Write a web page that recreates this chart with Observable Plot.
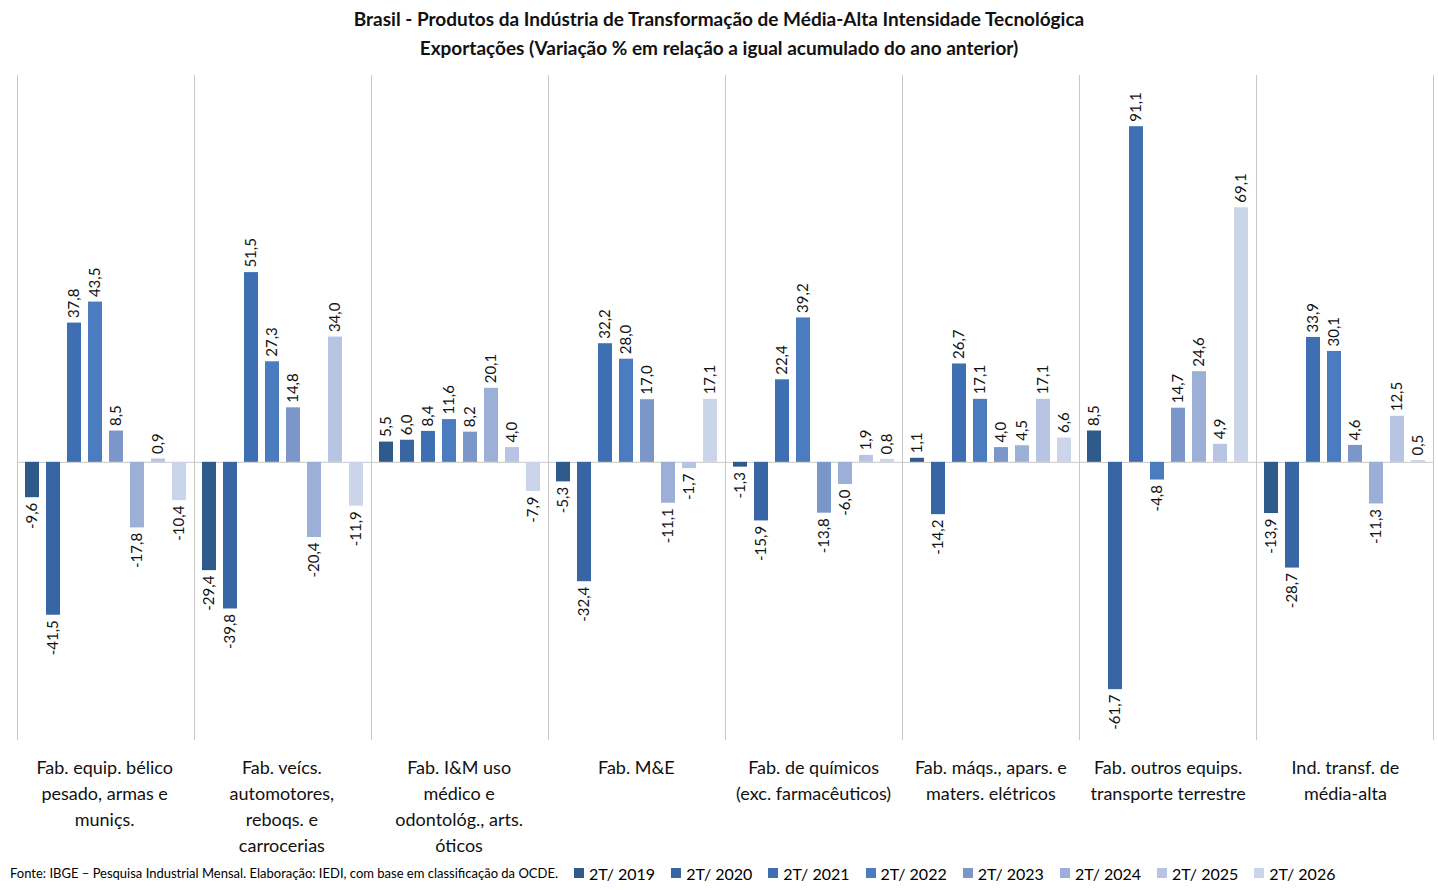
<!DOCTYPE html>
<html><head><meta charset="utf-8">
<script src="https://cdn.jsdelivr.net/npm/d3@7"></script>
<script src="https://cdn.jsdelivr.net/npm/@observablehq/plot@0.6"></script>
<style>
body{margin:0;background:#fff;font-family:Lato,"Open Sans",sans-serif;}
#wrap{width:1438px;}
.title{text-align:center;font-weight:bold;font-size:19px;line-height:29px;padding-top:4px;height:58px;color:#111;}
#chart svg{display:block;}
#cats{margin-left:16px;width:1418px;display:flex;margin-top:14px;height:104px;}
#cats div{flex:1;text-align:center;font-size:18px;line-height:26px;color:#111;}
#foot{margin-top:5px;margin-left:10px;font-size:13px;display:flex;align-items:center;width:1420px;height:20px;}
#foot .leg{display:flex;align-items:center;margin-left:16px;font-size:16px}
#foot .sw{width:10px;height:10px;margin-right:5px;display:inline-block}
</style></head><body>
<div id="wrap">
<div class="title">Brasil - Produtos da Indústria de Transformação de Média-Alta Intensidade Tecnológica<br>Exportações (Variação % em relação a igual acumulado do ano anterior)</div>
<div id="chart"></div>
<div id="cats"></div>
<div id="foot"></div>
</div>
<script>
const categories = ["Fab. equip. bélico pesado, armas e muniçs.","Fab. veícs. automotores, reboqs. e carrocerias","Fab. I&M uso médico e odontológ., arts. óticos","Fab. M&E","Fab. de químicos (exc. farmacêuticos)","Fab. máqs., apars. e maters. elétricos","Fab. outros equips. transporte terrestre","Ind. transf. de média-alta"];
const catLabels = ["Fab. equip. bélico<br>pesado, armas e<br>muniçs.","Fab. veícs.<br>automotores,<br>reboqs. e<br>carrocerias","Fab. I&amp;M uso<br>médico e<br>odontológ., arts.<br>óticos","Fab. M&amp;E","Fab. de químicos<br>(exc. farmacêuticos)","Fab. máqs., apars. e<br>maters. elétricos","Fab. outros equips.<br>transporte terrestre","Ind. transf. de<br>média-alta"];
const series = ["2T/ 2019","2T/ 2020","2T/ 2021","2T/ 2022","2T/ 2023","2T/ 2024","2T/ 2025","2T/ 2026"];
const colors = ["#2e5a8c","#3866a4","#3f6fb3","#4b7cc0","#7b97c9","#9cb0d7","#b7c5e2","#cbd5ea"];
const v_equip = [-9.6,-41.5,37.8,43.5,8.5,-17.8,0.9,-10.4];
const v_veics = [-29.4,-39.8,51.5,27.3,14.8,-20.4,34.0,-11.9];
const v_im = [5.5,6.0,8.4,11.6,8.2,20.1,4.0,-7.9];
const v_me = [-5.3,-32.4,32.2,28.0,17.0,-11.1,-1.7,17.1];
const v_quim = [-1.3,-15.9,22.4,39.2,-13.8,-6.0,1.9,0.8];
const v_eletr = [1.1,-14.2,26.7,17.1,4.0,4.5,17.1,6.6];
const v_transp = [8.5,-61.7,91.1,-4.8,14.7,24.6,4.9,69.1];
const v_total = [-13.9,-28.7,33.9,30.1,4.6,-11.3,12.5,0.5];
const all = [v_equip,v_veics,v_im,v_me,v_quim,v_eletr,v_transp,v_total];
const data = [];
all.forEach((vals,i)=>vals.forEach((v,j)=>data.push({cat:categories[i],s:series[j],v})));
const fmt = v => v.toFixed(1).replace(".",",");
const pos = data.filter(d=>d.v>=0), neg = data.filter(d=>d.v<0);
const chart = Plot.plot({
  width:1438, height:678, marginLeft:16, marginRight:4, marginTop:13, marginBottom:0,
  style:{fontFamily:"Lato, 'Open Sans', sans-serif"},
  fx:{domain:categories, padding:0, axis:null},
  x:{domain:series, padding:0.33, axis:null},
  y:{domain:[-75.5,105], axis:null},
  color:{domain:series, range:colors},
  marks:[
    Plot.frame({anchor:"left", stroke:"#c8c8c8"}),
    Plot.frame({anchor:"right", stroke:"#c8c8c8"}),
    Plot.ruleY([0],{stroke:"#c8c8c8"}),
    Plot.barY(data,{fx:"cat",x:"s",y:"v",fill:"s"}),
    Plot.text(pos,{fx:"cat",x:"s",y:"v",text:d=>fmt(d.v),rotate:-90,textAnchor:"start",dy:-5,fontSize:15,fill:"#111"}),
    Plot.text(neg,{fx:"cat",x:"s",y:"v",text:d=>fmt(d.v),rotate:-90,textAnchor:"end",dy:5,fontSize:15,fill:"#111"})
  ]
});
document.getElementById("chart").appendChild(chart);
document.getElementById("cats").innerHTML = catLabels.map(c=>`<div>${c}</div>`).join("");
document.getElementById("foot").innerHTML = `<span>Fonte: IBGE – Pesquisa Industrial Mensal. Elaboração: IEDI, com base em classificação da OCDE.</span>` +
  series.map((s,i)=>`<span class="leg"><span class="sw" style="background:${colors[i]}"></span>${s}</span>`).join("");
</script>
</body></html>
